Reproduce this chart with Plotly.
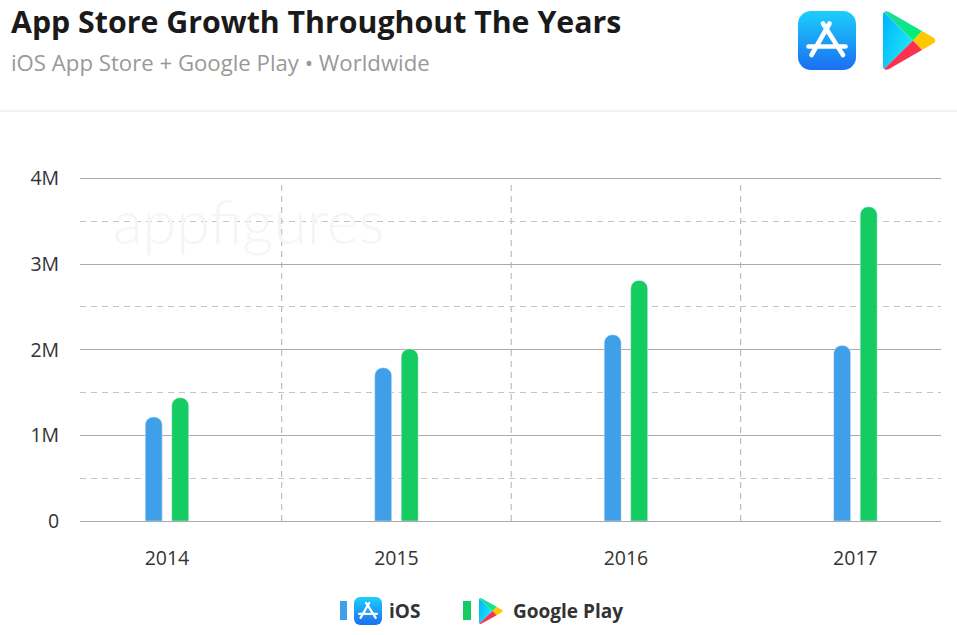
import base64
import plotly.graph_objects as go

years = ["2014", "2015", "2016", "2017"]
ios_apps = [1215000, 1790000, 2175000, 2050000]
play_apps = [1440000, 2010000, 2810000, 3670000]
y_ticks = [0, 1000000, 2000000, 3000000, 4000000]
y_labels = ["0", "1M", "2M", "3M", "4M"]

IOS_COLOR = "#3f9fe8"
PLAY_COLOR = "#14cc62"
W, H = 957, 635
# top of the plot sits a little above the 4M line so plotly keeps that gridline
LEFT, RIGHT, TOP, BOTTOM = 80, 941, 173, 521


def paper_x(px):
    return (px - LEFT) / (RIGHT - LEFT)


def paper_y(py):
    return (BOTTOM - py) / (BOTTOM - TOP)


def svg_uri(svg):
    return "data:image/svg+xml;base64," + base64.b64encode(svg.encode()).decode()


APP_ICON = svg_uri("""<svg xmlns="http://www.w3.org/2000/svg" viewBox="0 0 58 59">
<defs><linearGradient id="g" x1="0" y1="0" x2="0" y2="1">
<stop offset="0" stop-color="#1bcffb"/><stop offset="1" stop-color="#1c6ef2"/></linearGradient></defs>
<rect width="58" height="59" rx="13" fill="url(#g)"/>
<g stroke="#fff" stroke-width="4.6" stroke-linecap="round" fill="none">
<path d="M31.5 12.5 L13.5 44"/><path d="M25 12.5 L45 44"/><path d="M10.5 35.5 H47.5"/>
</g></svg>""")

PLAY_ICON = svg_uri("""<svg xmlns="http://www.w3.org/2000/svg" viewBox="0 0 53 59">
<defs><linearGradient id="b" x1="0" y1="0" x2="1" y2="0.6">
<stop offset="0" stop-color="#00b4ff"/><stop offset="1" stop-color="#1fe6f8"/></linearGradient>
<linearGradient id="t" x1="0" y1="0" x2="1" y2="1">
<stop offset="0" stop-color="#1ed9a0"/><stop offset="1" stop-color="#00f076"/></linearGradient></defs>
<path d="M1 1 L30 29.5 L1 58 Q0 57 0 55 V4 Q0 2 1 1Z" fill="url(#b)"/>
<path d="M1 1 Q3 -0.5 6 1 L39 20 L30 29.5Z" fill="url(#t)"/>
<path d="M39 20 L51 27 Q53.5 29.5 51 32 L39 39 L30 29.5Z" fill="#ffc800"/>
<path d="M1 58 L30 29.5 L39 39 L6 58 Q3 59.5 1 58Z" fill="#f8324f"/>
</svg>""")

fig = go.Figure()
fig.add_bar(x=years, y=ios_apps, name="iOS", marker_color=IOS_COLOR, hoverinfo="skip")
fig.add_bar(x=years, y=play_apps, name="Google Play", marker_color=PLAY_COLOR, hoverinfo="skip")


def image(source, x0, y0, x1, y1):
    return dict(source=source, xref="paper", yref="paper", x=paper_x(x0), y=paper_y(y0),
                sizex=(x1 - x0) / (RIGHT - LEFT), sizey=(y1 - y0) / (BOTTOM - TOP),
                xanchor="left", yanchor="top", sizing="stretch", layer="above")


def swatch(x0, x1, color):
    return dict(type="rect", xref="paper", yref="paper", x0=paper_x(x0), x1=paper_x(x1),
                y0=paper_y(620), y1=paper_y(601), fillcolor=color, line_width=0)


def divider(x):
    return dict(type="line", xref="x", yref="paper", x0=x, x1=x, y0=0, y1=paper_y(183),
                line=dict(color="#b0b0b0", width=1, dash="6px,5px"), layer="below")


fig.update_layout(
    width=W,
    height=H,
    margin=dict(l=LEFT, r=W - RIGHT, t=TOP, b=H - BOTTOM),
    paper_bgcolor="white",
    plot_bgcolor="white",
    showlegend=False,
    barmode="group",
    bargap=0.769,
    bargroupgap=0.36,
    barcornerradius=8,
    font=dict(family="Open Sans", color="#333333"),
    title=dict(
        text="<b>App Store Growth Throughout The Years</b>",
        font=dict(size=30.3, color="#1a1a1a"),
        xref="container", yref="container",
        x=11 / W, y=1 - 22 / H, xanchor="left", yanchor="middle",
    ),
    xaxis=dict(
        type="category",
        range=[-0.379, 3.373],
        showgrid=False,
        zeroline=False,
        showline=False,
        ticks="outside",
        ticklen=20,
        tickcolor="rgba(0,0,0,0)",
        tickfont=dict(size=19.5, color="#333333"),
    ),
    yaxis=dict(
        range=[0, 4065000],
        tickvals=y_ticks,
        ticktext=y_labels,
        gridcolor="#aaaaaa",
        gridwidth=1,
        zeroline=True,
        zerolinecolor="#aaaaaa",
        zerolinewidth=1,
        ticks="outside",
        ticklen=16,
        tickcolor="rgba(0,0,0,0)",
        tickfont=dict(size=19.5, color="#333333"),
        minor=dict(tickvals=[500000, 1500000, 2500000, 3500000], showgrid=True,
                   gridcolor="#c4c4c4", griddash="6px,5px", gridwidth=1, ticks=""),
    ),
    shapes=[
        dict(type="line", xref="paper", yref="paper", x0=paper_x(0), x1=paper_x(W),
             y0=paper_y(111), y1=paper_y(111), line=dict(color="#e4e4e4", width=1)),
        divider(0.5),
        divider(1.5),
        divider(2.5),
        swatch(340, 347, IOS_COLOR),
        swatch(463, 471, PLAY_COLOR),
    ],
    images=[
        image(APP_ICON, 798, 11, 856, 70),
        image(PLAY_ICON, 883, 11, 936, 70),
        image(APP_ICON, 354, 597, 382, 625),
        image(PLAY_ICON, 479, 598, 503, 624),
    ],
    annotations=[
        dict(text="iOS App Store + Google Play • Worldwide", xref="paper", yref="paper",
             x=paper_x(9), y=paper_y(62), xanchor="left", yanchor="middle", showarrow=False,
             font=dict(size=22.2, color="#999999")),
        dict(text="appfigures", xref="paper", yref="paper",
             x=paper_x(111), y=paper_y(220), xanchor="left", yanchor="middle", showarrow=False,
             font=dict(family="Lato", size=61, color="#f5f5f5", weight=300)),
        dict(text="<b>iOS</b>", xref="paper", yref="paper",
             x=paper_x(387), y=paper_y(611), xanchor="left", yanchor="middle", showarrow=False,
             font=dict(size=19, color="#333333")),
        dict(text="<b>Google Play</b>", xref="paper", yref="paper",
             x=paper_x(511), y=paper_y(611), xanchor="left", yanchor="middle", showarrow=False,
             font=dict(size=19, color="#333333")),
    ],
)

fig.write_html("out.html", config=dict(displayModeBar=False),
               post_script="document.body.style.margin='0';")
